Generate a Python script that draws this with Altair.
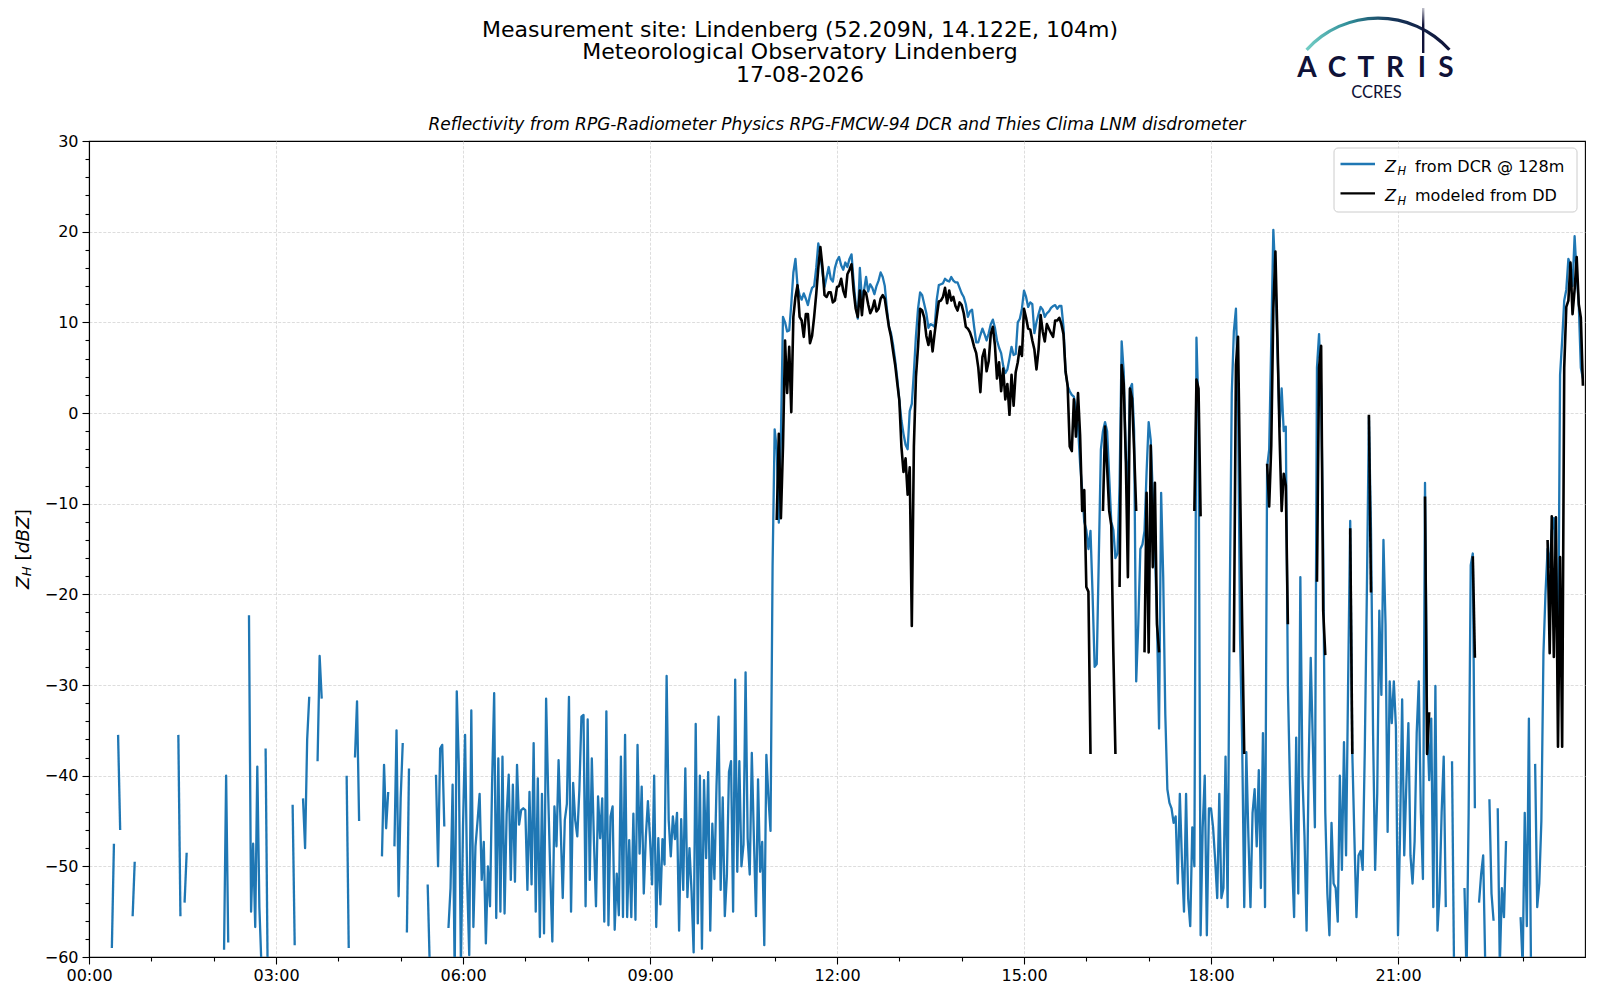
import altair as alt
import pandas as pd

N = None
STEP_MIN = 2  # sampling step of the series, minutes (30 values per hour)

# ---- Z_H from DCR @ 128m (dBZ), one row per hour, 2-min samples ----
zh_dcr_rows = [
    [N,N,N,N,N,N,N,N,N,N, N,-59,-47.5,N,-35.5,-46,N,N,N,N, N,-55.5,-49.5,N,N,N,N,N,N,N],
    [N,N,N,N,N,N,N,N,N,N, N,N,N,-35.5,-55.5,N,-54,-48.5,N,N, N,N,N,N,N,N,N,N,N,N],
    [N,N,N,N,N,-59.2,-40,-58.4,N,N, N,N,N,N,N,N,N,-22.3,-55,-47.5, -56.7,-39,-54.5,-61,N,-37,-62,N,N,N],
    [N,N,N,N,N,N,N,N,-43.2,-58.7, N,N,N,-42.5,-48,-36,-31.3,N,N,N, -38.4,-26.8,-31.5,N,N,N,N,N,N,N],
    [N,N,N,N,-40,-59,N,N,-38,-31.8, -45,N,N,N,N,N,N,N,N,N, N,-48.9,-38.8,-45.8,-41.8,N,N,-47.8,-35,-53.3],
    [-42.5,-36.4,N,-57.3,-39.2,N,N,N,N,N, N,N,N,-52,-61,N,N,-39.9,-50,-37, -36.6,-45.6,N,-56.8,-52.4,-41,-62,-30.7,-39,-61],
    [-45.6,-35.5,-51.5,-59.8,-32.8,-56.7,-47.8,-45,-42,-51.5, -47.3,-58.5,-50,-54.4,-40.8,-30.9,-55.7,-38.1,-55,-37.9, -55.2,-44.2,-39.9,-51.5,-41,-51.7,-38.8,-45.4,-43.8,-43.6],
    [-43.8,-52.6,-41.8,-52,-36.4,-55,-40.3,-57.8,-42,-57.4, -31.5,-42,-50.8,-58.3,-43.4,-47.8,-38.3,-45.6,-53.5,-44.9, -43.1,-31.3,-55,-40.8,-44.9,-46.7,-41.6,-33.5,-33.3,-54.4],
    [-33.8,-51.5,-38.1,-47.1,-54.4,-42.3,-46.9,-42.5,-56.1,-32.9, -56.5,-44.5,-43.4,-57,-50.8,-55.4,-37.9,-55.6,-35.5,-55.6, -47.1,-55.6,-44.2,-55.9,-36.6,-48.6,-41.2,-53,-46.7,-42.8],
    [-46.9,-52,-40,-56.7,-46.9,-54.2,-47,-49.8,-29,-44.9, -48.9,-44.5,-47,-44.1,-57.1,-44.8,-52.6,-39.2,-53.4,-48, -52.8,-59.5,-34.3,-56.3,-40,-59.1,-40.5,-49.1,-39.6,-57.1],
    [-45.3,-51.4,-41.2,-33.5,-52.6,-42.4,-55.5,-51,-39.6,-38.4, -55,-29.4,-50.6,-38.4,-50,-47.6,-28.6,-46.9,-50.9,-37.5, -46.9,-55.5,-40.4,-50.6,-47.3,-58.7,-37.7,-42.4,-46.1,-16.8],
    [-1.8,-4,-12.1,-2.6,10.6,10,9,9.1,12,15.5, 17,14,13,12.5,13.2,12.6,11.9,13,13.8,14, 16,18.7,17.5,15.5,13.9,15,16.1,14.8,14.5,16],
    [16.8,17.2,16.3,15.8,16.6,16.1,17,17.5,14.5,12, 10.4,16,12.5,13.5,15,13.4,14.2,13.8,13.1,14, 14.6,15.5,15,14,11.5,9.5,8.8,7.5,5.8,3.8],
    [1.4,-0.8,-2.3,-3.5,-4,0.2,1,4.5,8.5,11.5, 13.3,13,12,11,9.4,9.8,9.7,9.5,12.5,14.1, 14.2,14.3,14.8,14.6,14.5,15,14.6,14.4,14.4,13.8],
    [13.2,12.8,12,10.6,11.2,11.4,9.5,7.8,7.8,8.6, 9.3,8.7,8,8.8,9.8,10.3,9.4,8,7.2,6.6, 5.2,4.4,4.8,6,7.3,6.4,6.5,10,10.4,11.5],
    [13.5,12.8,11.7,12.2,12,8.8,10,10.9,11.7,11.4, 10.6,11,11.2,11.6,11.8,11.9,11.5,11.8,11.8,9.5, 4.5,3,2.4,2,1.8,0.5,-1.5,-5.6,-8.5,-12],
    [-12.9,-15,-13,-20,-28,-27.7,-16,-4,-2,-1, -2,-7,-12,-12.9,-16,-15.5,-8,7.9,4.5,-5, -8,2.7,3.2,-2,-29.6,-23.3,-15,-14.5,-13,-6.5],
    [-1,-3,-9,-15,-23,-34.8,-8.8,-18.1,-33.2,-41.5, -43,-43.6,-45.2,-44.5,-51.9,-42,-49.3,-55,-42,-53.5, -56.6,-45.7,-50,8.3,0,-57.6,-45.7,-40,-57.6,-43.6],
    [-43.6,-45.7,-49.3,-53.5,-42,-53.5,-52.4,-37.9,-54.5,-21.2, 2.2,9,11.5,2,-25,-36.3,-54.5,-37.4,-46.7,-54.5, -44.1,-41.5,-47.8,-39.4,-52.4,-35.3,-54.5,-6,-4,8],
    [20.2,15,7,-1.5,2.7,-2,-1.5,-30,-41,-49.3, -55.6,-35.8,-53,-18.1,-40,-46.7,-57.1,-38.9,-27,-36.3, -45.7,5,8.7,2.7,-15,-44.1,-53,-57.6,-45.2,-51.9],
    [-52.4,-56.1,-40,-50.4,-36.3,-48.8,-29.6,-11.9,-37.4,-46.7, -55.6,-48.8,-48.3,-50.4,-37.4,-20,-0.4,-12.9,-35.3,-50.4, -42,-21.8,-31.1,-14,-23.3,-46.2,-29.6,-34.2,-29.6,-34.7],
    [-57.6,-46.2,-31.6,-48.8,-41,-34.2,-48.8,-51.9,-47.2,-35.3, -29.6,-44.1,-51.4,-7.7,-33.7,-40.5,-33.7,-54.5,-30.1,-57.1, -53,-44.1,-37.9,-54.5,N,N,-38.4,-62,N,N],
    [N,N,-52.4,-62,-44.1,-16.8,-15.5,-43.6,N,-54, -50.9,-48.8,-61,N,-42.6,-53,-56,N,-43.6,-61, -52.4,-55.6,-47.2,N,N,N,N,N,N,-55.6],
    [-61,-44.1,-56.6,-33.7,-61,N,-38.7,-54.5,-51.9,-45, -26.5,-19.8,-15,-17,-13,-11.6,-16,-29.7,4.2,8, 12.4,13.6,17,16.4,14,19.5,15.2,12,5,3.8],
]

# ---- Z_H modeled from disdrometer DD (dBZ), rows for 11:00 .. 23:00 ----
zh_dd_first_hour = 11
zh_dd_rows = [
    [N,-11.8,-2.3,-11.6,-3.7,8,2.2,7.3,0.1,10.6, 12.8,14.1,10.6,10.2,8.4,10.9,10.9,7.7,8.5,10.6, 13.1,16,18.3,16.1,13,12.8,13.3,13.3,12.2,12.4],
    [13.9,14,14.8,13.5,12.8,15.3,15.8,16.4,13.5,11.5, 10.6,13.5,10.8,13.5,13.2,12,11,11.5,12.4,11.2, 11.5,12.6,13,12.6,11,9.5,8.4,6.8,5.3,3.3],
    [1.4,-3.7,-6.5,-5,-9,-6,-23.5,-3.7,4,7.3, 11.5,11.3,10.5,8.5,7.5,9,6.8,8.8,10.6,12.3, 12.4,12.8,13.8,12.1,13.5,12.4,12.8,11.8,11.3,12.2],
    [11.9,11,9.5,9.3,8.9,8.2,7.3,6.6,5,2.3, 6.2,7,4.6,5.7,8.7,9.5,7.5,3.8,5.6,2.4, 4.9,1.5,3.2,-0.2,4.2,0.8,4.5,5.6,7.3,6.3],
    [11.5,10.5,9.3,9.2,8,7,4.8,7,10.8,9, 7.9,9.8,9.3,8.8,8.4,10.2,10.2,10.5,9.8,8.7, 4.6,3,-3.7,-4.2,1.5,-2.6,2.2,-2.5,-10.8,-8.5],
    [-19.2,-19.7,-37.6,N,N,N,N,N,-10.8,-1.5, -6,-10.8,-12.4,-26.4,-37.6,N,-19.2,5.3,3.2,-5.1, -18.1,2.7,1.6,-4.1,-10.8,N,N,N,-26.4,-8.8],
    [-26.4,-3.6,-17,-7.7,-23.3,-26.4,N,N,N,N, N,N,N,N,N,N,N,N,N,N, N,N,-10.8,3.7,2.7,-11.4,N,N,N,N],
    [N,N,N,N,N,N,N,N,N,N, N,-26.4,5.3,8.4,-7.7,-23.3,-37.6,N,N,N, N,N,N,N,N,N,N,-5.6,-10.3,-3.6],
    [11.5,17.8,8,-2.5,-10.8,-6.7,-8,-23.3,N,N, N,N,N,N,N,N,N,N,N,N, N,-18.6,5,7.4,-21.8,-26.7,N,N,N,N],
    [N,N,N,N,N,N,N,-12.7,-37.6,N, N,N,N,N,N,N,-0.2,-19.8,N,N, N,N,N,N,N,N,N,N,N,N],
    [N,N,N,N,N,N,N,N,N,N, N,N,N,-9.2,-37.6,-33,N,N,N,N, N,N,N,N,N,N,N,N,N,N],
    [N,N,N,N,N,N,-15.8,-27,N,N, N,N,N,N,N,N,N,N,N,N, N,N,N,N,N,N,N,N,N,N],
    [N,N,N,N,N,N,N,N,N,N, N,N,-14,-26.5,-11.4,-26.9,-11.5,-36.8,-15.9,-36.8, 5,11.7,12.4,16.6,10.9,13.6,17.2,12,10.5,3],
]

x_ticks = list(range(0, 24))          # hourly ticks, labelled every 3 h
y_ticks = list(range(-60, 31, 2))     # minor every 2 dBZ, labelled every 10

title_lines = ["Measurement site: Lindenberg (52.209N, 14.122E, 104m)",
               "Meteorological Observatory Lindenberg",
               "17-08-2026"]
subtitle = ("Reflectivity from RPG-Radiometer Physics RPG-FMCW-94 DCR "
            "and Thies Clima LNM disdrometer")
legend_labels = ["from DCR @ 128m", "modeled from DD"]
logo_letters = ["A", "C", "T", "R", "I", "S"]

for r in zh_dcr_rows + zh_dd_rows:
    assert len(r) == 30, len(r)


def to_frame(rows, first_hour, name):
    recs, seg = [], 0
    for h, row in enumerate(rows):
        for k, v in enumerate(row):
            if v is None:
                seg += 1
                continue
            recs.append({"hour": first_hour + h + (k * STEP_MIN) / 60.0,
                         "zh": v, "seg": f"{name}{seg}"})
    return pd.DataFrame(recs)


df_dcr = to_frame(zh_dcr_rows, 0, "dcr")
df_dd = to_frame(zh_dd_rows, zh_dd_first_hour, "dd")

W, H = 1496, 816
FONT = "DejaVu Sans"
NAVY = "#0f1238"

x_enc = alt.X(
    "hour:Q",
    scale=alt.Scale(domain=[0, 24], nice=False, zero=False),
    axis=alt.Axis(
        values=x_ticks, tickCount=200, title=None, labelFlush=False, labelOverlap=False,
        labelExpr="datum.value % 3 === 0 ? ((datum.value < 10 ? '0' : '') + datum.value + ':00') : ''",
        tickSize={"condition": {"test": "datum.value % 3 === 0", "value": 7}, "value": 4},
        gridOpacity={"condition": {"test": "datum.value % 3 === 0 && datum.value > 0", "value": 1}, "value": 0},
        labelPadding=3,
    ),
)
y_enc = alt.Y(
    "zh:Q",
    scale=alt.Scale(domain=[-60, 30], nice=False, zero=False),
    axis=alt.Axis(
        values=y_ticks, tickCount=200, format="d", title=None,
        labelFlush=False, labelOverlap=False,
        labelExpr="datum.value % 10 === 0 ? datum.label : ''",
        tickSize={"condition": {"test": "datum.value % 10 === 0", "value": 7}, "value": 4},
        gridOpacity={"condition": {"test": "datum.value % 10 === 0 && datum.value > -60 && datum.value < 30", "value": 1}, "value": 0},
        labelPadding=4,
    ),
)

blue = alt.Chart(df_dcr).mark_line(
    color="#1f77b4", strokeWidth=2.3, clip=True, strokeJoin="round"
).encode(x=x_enc, y=y_enc, detail="seg:N")

black = alt.Chart(df_dd).mark_line(
    color="black", strokeWidth=2.6, clip=True, strokeJoin="round"
).encode(x="hour:Q", y="zh:Q", detail="seg:N")

one = pd.DataFrame({"a": [0]})


def txt(text, x, y, size=16, **kw):
    props = dict(text=text, font=FONT, fontSize=size, color="black",
                 align="left", baseline="alphabetic")
    props.update(kw)
    return alt.Chart(one).mark_text(**props).encode(x=alt.value(x), y=alt.value(y))


deco = []
# titles (coordinates relative to the plot origin)
deco.append(txt(title_lines[0], 711, -104.5, 22, align="center"))
deco.append(txt(title_lines[1], 711, -82, 22, align="center"))
deco.append(txt(title_lines[2], 711, -59.5, 22, align="center"))
deco.append(txt(subtitle, 748, -11, 17, align="center", fontStyle="italic"))

# y-axis title  Z_H [dBZ]  (rotated, reading upwards)
yx = -66.5
deco.append(txt("Z", yx, 448, 18.5, angle=270, baseline="middle", fontStyle="italic"))
deco.append(txt("H", yx + 4, 435.3, 13, angle=270, baseline="middle", fontStyle="italic"))
deco.append(txt("[", yx, 419.5, 18.5, angle=270, baseline="middle"))
deco.append(txt("dBZ", yx, 412.3, 18.5, angle=270, baseline="middle", fontStyle="italic"))
deco.append(txt("]", yx, 375.3, 18.5, angle=270, baseline="middle"))

# legend
deco.append(alt.Chart(one).mark_rect(
    fill="white", fillOpacity=0.8, stroke="#cccccc", strokeWidth=1, cornerRadius=4
).encode(x=alt.value(1245), x2=alt.value(1488), y=alt.value(7), y2=alt.value(71)))
for yy, col in ((23, "#1f77b4"), (52.3, "black")):
    deco.append(alt.Chart(one).mark_rule(color=col, strokeWidth=2.3).encode(
        x=alt.value(1251.5), x2=alt.value(1286), y=alt.value(yy)))
for yb, lab in ((30.7, legend_labels[0]), (60, legend_labels[1])):
    deco.append(txt("Z", 1296, yb, 16, fontStyle="italic"))
    deco.append(txt("H", 1308.5, yb + 3.6, 11.5, fontStyle="italic"))
    deco.append(txt(lab, 1326, yb, 16))

# ACTRIS / CCRES logo
for ch, lx in zip(logo_letters, [1218, 1248, 1277, 1306, 1333, 1357]):
    deco.append(txt(ch, lx, -63.7, 28, align="center", font="Lato",
                    fontWeight="bold", color=NAVY))
deco.append(txt("CCRES", 1287.5, -42.7, 16.5, align="center", font="Lato", color=NAVY))
deco.append(alt.Chart(one).mark_arc(
    radius=97.8, radius2=94.6, theta=5.447, theta2=7.119,
    fill=alt.Gradient(gradient="linear", x1=0, x2=1, y1=0, y2=0, stops=[
        alt.GradientStop(color="#74cfc6", offset=0),
        alt.GradientStop(color="#2f8d98", offset=0.3),
        alt.GradientStop(color="#163559", offset=0.6),
        alt.GradientStop(color=NAVY, offset=1)]),
).encode(x=alt.value(1289), y=alt.value(-26.7)))
deco.append(alt.Chart(one).mark_rect(
    fill=alt.Gradient(gradient="linear", x1=0, x2=0, y1=0, y2=1, stops=[
        alt.GradientStop(color="#ffffff", offset=0),
        alt.GradientStop(color=NAVY, offset=0.45),
        alt.GradientStop(color=NAVY, offset=1)]),
).encode(x=alt.value(1333), x2=alt.value(1335.4), y=alt.value(-139), y2=alt.value(-88)))

chart = alt.layer(blue, black, *deco).properties(
    width=W, height=H,
    padding={"left": 81, "top": 133, "right": 7, "bottom": 40},
    autosize=alt.AutoSizeParams(type="none"),
    background="white",
).configure_view(
    stroke="black", strokeWidth=1.1
).configure_axis(
    labelFont=FONT, labelFontSize=16, labelColor="black",
    tickColor="black", tickWidth=1.1, domainColor="black", domainWidth=1.1,
    gridColor="#d4d4d4", gridDash=[3, 1.6], gridWidth=0.8,
)

chart.save("out.html", embed_options={"renderer": "svg", "actions": False})
